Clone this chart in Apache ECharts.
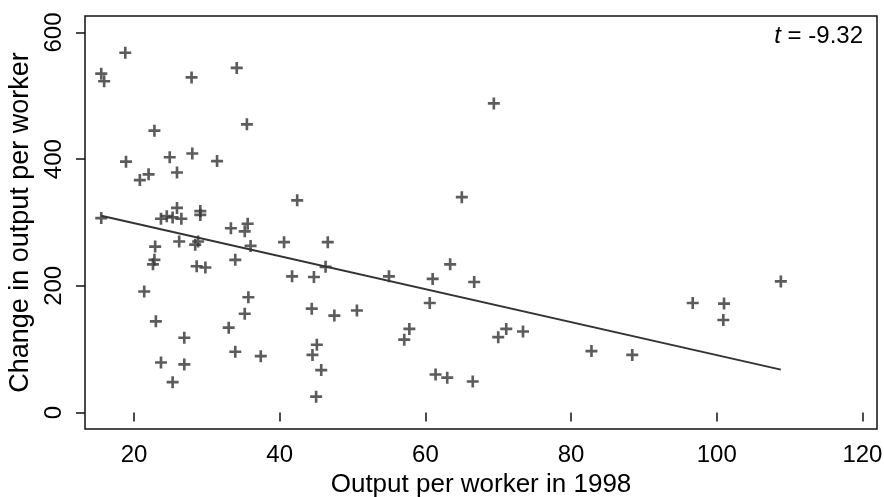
<!DOCTYPE html>
<html>
<head>
<meta charset="utf-8">
<script src="https://cdn.jsdelivr.net/npm/echarts@6/dist/echarts.min.js"></script>
<style>
html,body{margin:0;padding:0;background:#fff;}
#chart{width:884px;height:497px;}
</style>
</head>
<body>
<div id="chart"></div>
<script>
const outputPerWorker1998 = [18.8,15.5,15.9,27.9,34.1,22.8,35.5,18.9,24.9,28.0,31.4,20.8,22.0,25.9,15.5,25.9,23.7,24.5,25.3,26.5,29.1,29.1,22.9,26.2,28.4,28.8,22.8,22.6,28.6,29.8,21.4,35.7,35.2,33.0,23.0,26.9,33.9,37.4,23.7,26.9,25.3,42.4,33.3,35.6,35.2,36.0,40.6,46.6,33.9,46.3,41.7,44.7,44.4,47.5,50.6,60.6,57.8,57.1,45.1,44.5,45.7,45.0,61.4,63.0,66.5,70.0,71.1,73.4,69.4,65.0,63.4,55.0,61.0,66.7,108.8,96.7,101.0,100.9,82.8,88.4];
const changeInOutput = [568,535,523,529,544,445,455,396,403,409,397,367,376,379,307,323,306,310,308,306,318,312,262,270,265,270,241,234,231,229,191,182,156,134,144,118,96,89,79,76,48,335,291,298,286,263,269,269,241,230,215,214,164,153,161,173,132,115,107,91,67,25,60,55,49,119,132,128,488,340,234,215,211,206,207,173,172,146,97,91];
const fitLineX = [15.5, 108.8];
const fitLineY = [310.5, 67.7];
const xTickValues = [20,40,60,80,100,120];
const yTickValues = [0,200,400,600];
const xTitle = 'Output per worker in 1998';
const yTitle = 'Change in output per worker';
const tStat = '-9.32';

const FONT = "'Liberation Sans', Arial, Helvetica, sans-serif";
const chart = echarts.init(document.getElementById('chart'), null, {renderer:'canvas'});
const plus = 'path://M3.9,0H6.1V3.9H10V6.1H6.1V10H3.9V6.1H0V3.9H3.9Z';

chart.setOption({
  animation: false,
  backgroundColor: '#fff',
  textStyle: {fontFamily: FONT},
  title: {
    right: 16, top: 19,
    text: '{i|t} = ' + tStat,
    textStyle: {
      fontFamily: FONT, fontSize: 24, fontWeight: 'normal', color: '#000',
      rich: {i: {fontStyle: 'italic', fontFamily: FONT, fontSize: 24, color: '#000'}}
    }
  },
  grid: {
    left: 85, right: 7, top: 16, bottom: 68,
    containLabel: false, outerBoundsMode: 'none',
    show: true, borderColor: '#111', borderWidth: 1.5, backgroundColor: '#fff'
  },
  xAxis: {
    type: 'value', min: 13.27, max: 122,
    name: xTitle, nameLocation: 'middle', nameGap: 41,
    nameTextStyle: {fontFamily: FONT, fontSize: 26, color: '#000'},
    axisLine: {show: false},
    splitLine: {show: false},
    axisTick: {show: true, length: 9, customValues: xTickValues, lineStyle: {color: '#111', width: 1.5}},
    axisLabel: {customValues: xTickValues, fontFamily: FONT, fontSize: 24, color: '#000', margin: 14}
  },
  yAxis: {
    type: 'value', min: -26, max: 626,
    name: yTitle, nameLocation: 'middle', nameGap: 46,
    nameTextStyle: {fontFamily: FONT, fontSize: 27, color: '#000'},
    axisLine: {show: false},
    splitLine: {show: false},
    axisTick: {show: true, length: 9, customValues: yTickValues, lineStyle: {color: '#111', width: 1.5}},
    axisLabel: {customValues: yTickValues, rotate: 90, fontFamily: FONT, fontSize: 24, color: '#000', margin: 19}
  },
  series: [
    {
      type: 'scatter',
      symbol: plus, symbolSize: 12,
      itemStyle: {color: '#333'},
      data: outputPerWorker1998.map((x, i) => [x, changeInOutput[i]]),
      z: 3
    },
    {
      type: 'line',
      showSymbol: false, symbol: 'none',
      lineStyle: {color: '#333', width: 2},
      data: fitLineX.map((x, i) => [x, fitLineY[i]]),
      z: 2
    }
  ]
});
</script>
</body>
</html>
